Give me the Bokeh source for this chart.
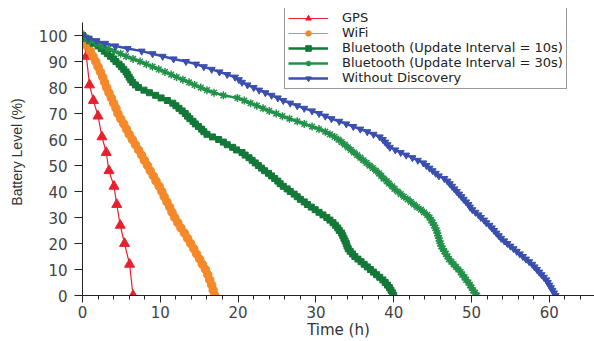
from bokeh.plotting import figure
from bokeh.models import Range1d, Legend, LegendItem, SingleIntervalTicker
from bokeh.embed import file_html
from bokeh.resources import INLINE

# ---------------- data ----------------
gps_t = [0, 0.5, 0.9, 1.4, 2.0, 2.5, 3.05, 3.4, 4.05, 4.4, 4.85, 5.4, 6.05, 6.5]
gps_v = [100, 92, 81, 75, 69, 61, 55, 48, 42, 35, 27, 20, 12, 0]

wifi_v = [100, 98, 96, 94, 92, 90, 88, 86, 84, 82, 80, 78, 76, 74, 72, 70, 68, 66, 64, 62,
          60, 58, 56, 54, 52, 50, 48, 46, 44, 42, 40, 38, 36, 34, 32, 30, 28, 26, 24, 22,
          20, 18, 16, 14, 12, 10, 8, 6, 4, 2, 0]
wifi_t = [0, 0.3, 0.6, 1.0, 1.35, 1.7, 2.0, 2.3, 2.6, 2.85, 3.1, 3.4, 3.7, 4.0, 4.3, 4.55,
          4.9, 5.3, 5.65, 6.0, 6.4, 6.8, 7.2, 7.6, 7.95, 8.35, 8.7, 9.1, 9.45, 9.85, 10.2,
          10.5, 10.85, 11.2, 11.5, 11.85, 12.25, 12.65, 13.1, 13.5, 13.9, 14.3, 14.65, 15.05,
          15.4, 15.8, 16.1, 16.35, 16.6, 16.8, 17.0]

# battery levels 100 .. 0 (one point per percent)
levels = [100, 99, 98, 97, 96, 95, 94, 93, 92, 91, 90, 89, 88, 87, 86, 85, 84, 83, 82, 81,
          80, 79, 78, 77, 76, 75, 74, 73, 72, 71, 70, 69, 68, 67, 66, 65, 64, 63, 62, 61,
          60, 59, 58, 57, 56, 55, 54, 53, 52, 51, 50, 49, 48, 47, 46, 45, 44, 43, 42, 41,
          40, 39, 38, 37, 36, 35, 34, 33, 32, 31, 30, 29, 28, 27, 26, 25, 24, 23, 22, 21,
          20, 19, 18, 17, 16, 15, 14, 13, 12, 11, 10, 9, 8, 7, 6, 5, 4, 3, 2, 1, 0]

bt10_t = [0, 0.4, 0.9, 1.4, 2.0, 2.4, 2.8, 3.2, 3.6, 4.0, 4.3, 4.7, 5.0, 5.3, 5.6, 5.8, 6.0,
          6.2, 6.45, 6.8, 7.2, 7.9, 8.6, 9.4, 10.1, 10.9, 11.6, 12.0, 12.4, 12.8, 13.2, 13.5,
          13.8, 14.2, 14.5, 14.9, 15.3, 15.6, 16.0, 16.7, 17.5, 18.1, 18.6, 19.3, 19.8, 20.5,
          20.9, 21.4, 21.8, 22.2, 22.6, 23.0, 23.4, 23.9, 24.3, 24.7, 25.1, 25.4, 25.8, 26.3,
          26.7, 27.2, 27.6, 28.0, 28.5, 28.9, 29.4, 29.9, 30.4, 30.9, 31.4, 31.8, 32.2, 32.5,
          32.8, 33.0, 33.3, 33.45, 33.6, 33.75, 33.9, 34.0, 34.15, 34.4, 34.7, 35.0, 35.4,
          35.8, 36.2, 36.6, 37.0, 37.4, 37.8, 38.2, 38.6, 38.9, 39.2, 39.45, 39.65, 39.85, 40.0]

bt30_t = [0, 0.5, 1.0, 1.8, 2.5, 3.3, 4.1, 4.9, 5.6, 6.5, 7.4, 8.2, 9.0, 9.8, 10.6, 11.4,
          12.1, 12.9, 13.7, 14.4, 15.2, 16.0, 16.9, 18.1, 19.9, 20.8, 21.6, 22.4, 23.2, 24.0,
          24.9, 25.7, 26.6, 27.6, 28.5, 29.5, 30.4, 31.2, 31.8, 32.4, 32.9, 33.3, 33.7, 34.1,
          34.5, 34.9, 35.3, 35.7, 36.1, 36.5, 36.9, 37.3, 37.7, 38.1, 38.4, 38.7, 39.1, 39.4,
          39.8, 40.1, 40.5, 40.9, 41.3, 41.8, 42.2, 42.6, 43.0, 43.5, 43.9, 44.3, 44.6, 44.8,
          45.0, 45.2, 45.35, 45.5, 45.6, 45.7, 45.8, 45.9, 46.0, 46.1, 46.3, 46.5, 46.7, 46.9,
          47.1, 47.4, 47.7, 48.0, 48.3, 48.6, 48.8, 49.1, 49.3, 49.6, 49.8, 50.0, 50.2, 50.45, 50.7]

nodisc_t = [0, 0.8, 1.8, 2.9, 4.2, 5.8, 7.6, 9.0, 10.3, 11.7, 13.3, 14.6, 15.6, 16.6, 17.6,
            18.6, 19.6, 20.1, 20.5, 21.2, 22.0, 22.7, 23.5, 24.3, 25.1, 25.8, 26.7, 27.6, 28.5,
            29.5, 30.4, 31.2, 32.0, 33.0, 33.9, 34.8, 35.7, 36.6, 37.4, 38.2, 38.6, 38.9, 39.2,
            39.5, 40.2, 40.9, 41.6, 42.4, 43.1, 43.8, 44.2, 44.6, 45.0, 45.4, 45.8, 46.5, 46.9,
            47.2, 47.5, 47.8, 48.1, 48.4, 48.7, 49.0, 49.3, 49.6, 49.8, 50.1, 50.5, 50.9, 51.2,
            51.6, 51.9, 52.3, 52.6, 52.9, 53.2, 53.5, 53.8, 54.2, 54.6, 55.0, 55.4, 55.8, 56.2,
            56.6, 57.0, 57.4, 57.8, 58.1, 58.4, 58.7, 59.0, 59.3, 59.6, 59.8, 60.0, 60.2, 60.4,
            60.6, 60.8]

labels = ["GPS", "WiFi", "Bluetooth (Update Interval = 10s)",
          "Bluetooth (Update Interval = 30s)", "Without Discovery"]
x_title = "Time (h)"
y_title = "Battery Level (%)"
x_ticks_major = 10
y_ticks_major = 10
x_max = 65.8
y_axis_max = 105
y_view_max = 110.4

# ---------------- figure ----------------
FONT = "DejaVu Sans"
p = figure(width=594, height=341, output_backend="svg", toolbar_location=None,
           x_range=Range1d(0, x_max), y_range=Range1d(0, y_view_max),
           min_border_left=82, min_border_top=8, min_border_right=0, min_border_bottom=45)
p.outline_line_color = None
p.xgrid.visible = False
p.ygrid.visible = False
p.background_fill_color = "white"
p.border_fill_color = "white"

C_GPS = "#e8202e"
C_WIFI = "#f5892a"
C_BT10 = "#137838"
C_BT30 = "#24914a"
C_ND = "#3a4fae"

series = [
    (gps_t, gps_v, C_GPS, "triangle", 10, 1.2),
    (wifi_t, wifi_v, C_WIFI, "circle", 8.5, 1.2),
    (bt10_t, levels, C_BT10, "square", 6, 2.5),
    (bt30_t, levels, C_BT30, "asterisk", 8, 2.5),
    (nodisc_t, levels, C_ND, "inverted_triangle", 7, 2.5),
]

items = []
for (t, v, col, mk, sz, lw), lab in zip(series, labels):
    r1 = p.line(t, v, line_color=col, line_width=lw)
    if mk == "asterisk":
        r2 = p.scatter(t, v, marker=mk, size=sz, line_color=col, line_width=1.5)
    else:
        r2 = p.scatter(t, v, marker=mk, size=sz, fill_color=col, line_color=col)
    items.append(LegendItem(label=lab, renderers=[r1, r2]))

leg = Legend(items=items, location=(202, 206), orientation="vertical",
             label_text_font=FONT, label_text_font_size="13px", label_text_color="#222222",
             glyph_width=40, glyph_height=14, label_height=14, spacing=0, padding=3,
             label_standoff=14, margin=0,
             border_line_color="#333333", border_line_width=1, background_fill_alpha=1)
p.add_layout(leg)

for ax in (p.xaxis[0], p.yaxis[0]):
    ax.axis_line_color = "#222222"
    ax.major_tick_line_color = "#222222"
    ax.minor_tick_line_color = "#222222"
    ax.major_label_text_font = FONT
    ax.major_label_text_font_size = "15px"
    ax.major_label_text_color = "#444444"
    ax.axis_label_text_font = FONT
    ax.axis_label_text_font_style = "normal"
    ax.axis_label_text_color = "#333333"

p.xaxis.ticker = SingleIntervalTicker(interval=x_ticks_major, num_minor_ticks=5)
p.xaxis.major_tick_in = 0
p.xaxis.major_tick_out = 7
p.xaxis.minor_tick_in = 0
p.xaxis.minor_tick_out = 4
p.xaxis.major_label_standoff = 3
p.xaxis.axis_label = x_title
p.xaxis.axis_label_text_font_size = "15px"
p.xaxis.axis_label_standoff = 0

p.yaxis.bounds = (0, y_axis_max)
p.yaxis.ticker = SingleIntervalTicker(interval=y_ticks_major, num_minor_ticks=0)
p.yaxis.major_tick_in = 0
p.yaxis.major_tick_out = 8
p.yaxis.minor_tick_line_color = None
p.yaxis.major_label_standoff = 7
p.yaxis.axis_label = y_title
p.yaxis.axis_label_text_font = "Liberation Sans"
p.yaxis.axis_label_text_font_size = "14px"
p.yaxis.axis_label_standoff = 11

open("out.html", "w").write(file_html(p, INLINE))
